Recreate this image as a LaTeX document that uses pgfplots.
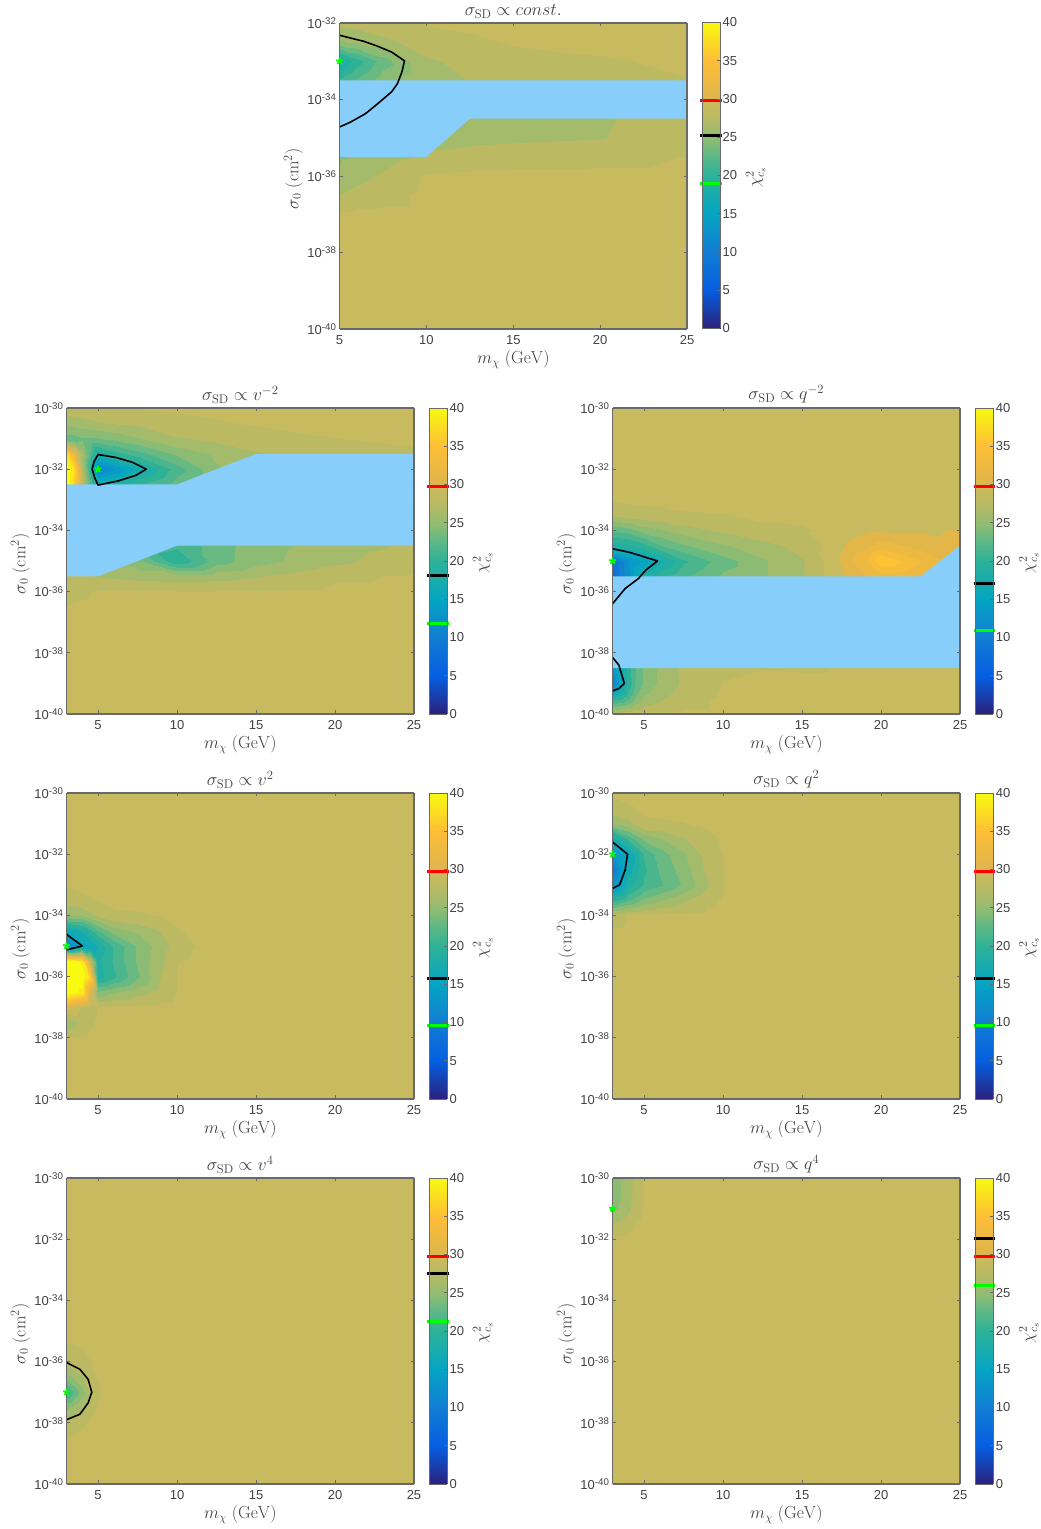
\RequirePackage{fix-cm}
\documentclass[border=0pt]{standalone}
\usepackage[no-math]{fontspec}
\setmainfont{Liberation Sans}
\usepackage{pgfplots}
\usepgfplotslibrary{patchplots}
\pgfplotsset{compat=1.18}
\definecolor{bgc}{RGB}{200,186,95}
\definecolor{blu}{RGB}{135,206,250}
\definecolor{frm}{RGB}{105,105,105}
\definecolor{txt}{RGB}{65,65,65}
\definecolor{lime}{RGB}{0,255,0}
\newcommand{\tk}[1]{10\raisebox{0.55ex}{\fontsize{9.7}{10}\selectfont -#1}}
\pgfplotsset{
 colormap={chi}{rgb255(0cm)=(43,33,125) rgb255(5cm)=(5,95,225) rgb255(10cm)=(18,125,210) rgb255(15cm)=(5,165,195) rgb255(20cm)=(45,178,152) rgb255(23.08cm)=(105,185,130) rgb255(24.6cm)=(140,188,116) rgb255(26.15cm)=(165,187,108) rgb255(27.69cm)=(187,186,98) rgb255(29.23cm)=(200,186,95) rgb255(30.5cm)=(225,182,75) rgb255(35cm)=(253,190,55) rgb255(40cm)=(248,250,15)},
 main/.style={scale only axis,width=347.5pt,height=306pt,view={0}{90},xmax=25,ymin=-40,ymax=-30,clip=false,
  axis background/.style={fill=bgc},axis on top,colormap name=chi,point meta min=0,point meta max=40,
  tick align=inside,major tick length=3.5pt,tick style={frm,line width=.7pt},axis line style={frm,line width=1.2pt},
  xtick={5,10,15,20,25},
  ticklabel style={txt,font=\fontsize{13}{15}\selectfont},/pgf/number format/assume math mode=true,
  xticklabel style={yshift=-3pt},
  label style={txt,font=\fontsize{17.5}{19}\selectfont},title style={txt,font=\fontsize{18}{20}\selectfont,yshift=-5pt},
  ytick={-40,-38,-36,-34,-32,-30},yticklabels={\tk{40},\tk{38},\tk{36},\tk{34},\tk{32},\tk{30}},
  xlabel={$m_\chi\ (\mathrm{GeV})$},ylabel={$\sigma_0\ (\mathrm{cm}^2)$},xlabel style={yshift=1pt},ylabel style={yshift=-2pt,xshift=-3pt}},
 cont/.style={black,line width=1.6pt,line join=round},
 blue/.style={fill=blu,draw=none},
}
\newcommand{\cbar}[5]{%
\begin{axis}[at={(#1pt,#2pt)},anchor=south west,scale only axis,width=18pt,height=306pt,view={0}{90},xmin=0,xmax=1,ymin=0,ymax=40,xtick=\empty,
 ytick={0,5,...,40},colormap name=chi,point meta min=0,point meta max=40,ytick pos=right,yticklabel pos=right,tick align=inside,
 major tick length=3pt,tick style={frm,line width=.7pt},axis line style={frm,line width=.8pt},axis on top,clip=false,
 ticklabel style={txt,font=\fontsize{13}{15}\selectfont,xshift=-1pt},/pgf/number format/assume math mode=true,
 ylabel={$\chi^2_{c_s}$},ylabel style={txt,font=\fontsize{17}{19}\selectfont,yshift=-2pt,xshift=-2pt}]
\addplot3[surf,shader=interp,mesh/cols=2,point meta=y] coordinates {(0,0,0)(1,0,0)

(0,20,0)(1,20,0)

(0,40,0)(1,40,0)};
\addplot3[red,line width=3pt] coordinates {(-0.09,#3,0)(1.09,#3,0)};
\addplot3[black,line width=3pt] coordinates {(-0.09,#4,0)(1.09,#4,0)};
\addplot3[lime,line width=3pt] coordinates {(-0.09,#5,0)(1.09,#5,0)};
\end{axis}}
% best-fit point, in its own axis over the frame: x pos, y pos, xmin, ymin, ymax, m, sigma
\newcommand{\bestfit}[7]{%
\begin{axis}[at={(#1pt,#2pt)},anchor=south west,scale only axis,width=347.5pt,height=306pt,hide axis,clip=false,
 xmin=#3,xmax=25,ymin=#4,ymax=#5]
\addplot[only marks,mark=star,mark size=3.5pt,lime,line width=1.8pt] coordinates {(#6,#7)};
\end{axis}}
\begin{document}
\begin{tikzpicture}[x=1pt,y=1pt]
\path[use as bounding box](0,0) rectangle (1041,1529);
% --- const ---
\begin{axis}[main,at={(339.5pt,1200pt)},anchor=south west,xmin=5,ymin=-40,ymax=-32,ytick={-40,-38,-36,-34,-32},yticklabels={\tk{40},\tk{38},\tk{36},\tk{34},\tk{32}},
 title={$\sigma_{\mathrm{SD}}\propto const.$}]
\addplot3[contour filled={number=27},mesh/cols=8] table[row sep=\\]{
5 -37 28.3\\ 6 -37 28.5\\ 7.5 -37 28.5\\ 10 -37 28.5\\ 12.5 -37 28.5\\ 15 -37 28.5\\ 20 -37 28.5\\ 25 -37 28.5\\
5 -36.5 26.7\\ 6 -36.5 27.2\\ 7.5 -36.5 27.6\\ 10 -36.5 28.5\\ 12.5 -36.5 28.5\\ 15 -36.5 28.5\\ 20 -36.5 28.5\\ 25 -36.5 28.5\\
5 -36 25.6\\ 6 -36 26.2\\ 7.5 -36 26.9\\ 10 -36 28.3\\ 12.5 -36 28.5\\ 15 -36 28.5\\ 20 -36 28.5\\ 25 -36 28.5\\
5 -35.5 25\\ 6 -35.5 25.4\\ 7.5 -35.5 26\\ 10 -35.5 27\\ 12.5 -35.5 27.2\\ 15 -35.5 27.4\\ 20 -35.5 27.7\\ 25 -35.5 28.2\\
5 -35 24.8\\ 6 -35 25\\ 7.5 -35 25.3\\ 10 -35 26\\ 12.5 -35 26.3\\ 15 -35 26.4\\ 20 -35 26.6\\ 25 -35 27.5\\
5 -34.5 23\\ 6 -34.5 24\\ 7.5 -34.5 25\\ 10 -34.5 25.8\\ 12.5 -34.5 26.2\\ 15 -34.5 26.2\\ 20 -34.5 26.5\\ 25 -34.5 27.5\\
5 -34 22\\ 6 -34 23.5\\ 7.5 -34 24.8\\ 10 -34 26\\ 12.5 -34 26.4\\ 15 -34 26.5\\ 20 -34 27\\ 25 -34 27.6\\
5 -33.5 21\\ 6 -33.5 22.5\\ 7.5 -33.5 24.5\\ 10 -33.5 26.3\\ 12.5 -33.5 26.7\\ 15 -33.5 27\\ 20 -33.5 27.5\\ 25 -33.5 28.1\\
5 -33 17.5\\ 6 -33 20\\ 7.5 -33 23\\ 10 -33 26.5\\ 12.5 -33 27\\ 15 -33 27.5\\ 20 -33 28\\ 25 -33 28.4\\
5 -32.5 25\\ 6 -32.5 25.5\\ 7.5 -32.5 26.3\\ 10 -32.5 27.3\\ 12.5 -32.5 27.8\\ 15 -32.5 28.3\\ 20 -32.5 28.5\\ 25 -32.5 28.5\\
5 -32 27\\ 6 -32 27.2\\ 7.5 -32 27.5\\ 10 -32 28.3\\ 12.5 -32 28.5\\ 15 -32 28.5\\ 20 -32 28.5\\ 25 -32 28.5\\
};
\addplot3[blue] coordinates {(5,-33.5,0)(25,-33.5,0)(25,-34.5,0)(12.5,-34.5,0)(10,-35.5,0)(5,-35.5,0)};
\addplot3[cont] coordinates {(5,-32.32,0)(5.6,-32.39,0)(6.4,-32.48,0)(7.15,-32.6,0)(8,-32.76,0)(8.74,-32.99,0)(8.6,-33.27,0)(8.33,-33.59,0)(8,-33.8,0)(7.2,-34.11,0)(6.5,-34.37,0)(5.6,-34.6,0)(5,-34.72,0)};
\end{axis}
\bestfit{339.5}{1200}{5}{-40}{-32}{5}{-33}
\cbar{702}{1200.5}{29.8}{25.2}{18.9}
% --- v^-2 ---
\begin{axis}[main,at={(66.5pt,815pt)},anchor=south west,xmin=3,title={$\sigma_{\mathrm{SD}}\propto v^{-2}$}]
\addplot3[contour filled={number=27},mesh/cols=12] table[row sep=\\]{
3 -36.5 28.2\\ 3.5 -36.5 28.4\\ 4 -36.5 28.5\\ 4.5 -36.5 28.5\\ 5 -36.5 28.5\\ 6 -36.5 28.5\\ 7.5 -36.5 28.5\\ 10 -36.5 28.5\\ 12.5 -36.5 28.5\\ 15 -36.5 28.5\\ 20 -36.5 28.5\\ 25 -36.5 28.5\\
3 -36 27.3\\ 3.5 -36 27.6\\ 4 -36 27.8\\ 4.5 -36 28.1\\ 5 -36 28.3\\ 6 -36 28.4\\ 7.5 -36 28.4\\ 10 -36 28.3\\ 12.5 -36 28.3\\ 15 -36 28.3\\ 20 -36 28.5\\ 25 -36 28.5\\
3 -35.5 26.8\\ 3.5 -35.5 26.8\\ 4 -35.5 26.8\\ 4.5 -35.5 26.7\\ 5 -35.5 26.5\\ 6 -35.5 26.3\\ 7.5 -35.5 26\\ 10 -35.5 25.8\\ 12.5 -35.5 26\\ 15 -35.5 26.5\\ 20 -35.5 27.9\\ 25 -35.5 28.3\\
3 -35 26\\ 3.5 -35 26\\ 4 -35 26\\ 4.5 -35 26\\ 5 -35 26\\ 6 -35 25.5\\ 7.5 -35 24\\ 10 -35 19.5\\ 12.5 -35 23\\ 15 -35 24.6\\ 20 -35 26.3\\ 25 -35 27.6\\
3 -34.5 24\\ 3.5 -34.5 24\\ 4 -34.5 24\\ 4.5 -34.5 24\\ 5 -34.5 24\\ 6 -34.5 24\\ 7.5 -34.5 22\\ 10 -34.5 21\\ 12.5 -34.5 23\\ 15 -34.5 24.5\\ 20 -34.5 26\\ 25 -34.5 26.9\\
3 -32.5 40\\ 3.5 -32.5 36\\ 4 -32.5 28\\ 4.5 -32.5 22\\ 5 -32.5 18\\ 6 -32.5 19\\ 7.5 -32.5 20.5\\ 10 -32.5 23\\ 12.5 -32.5 25\\ 15 -32.5 25\\ 20 -32.5 26\\ 25 -32.5 27\\
3 -32 42\\ 3.5 -32 37\\ 4 -32 27\\ 4.5 -32 20\\ 5 -32 11\\ 6 -32 13\\ 7.5 -32 17\\ 10 -32 21.5\\ 12.5 -32 25\\ 15 -32 26\\ 20 -32 27\\ 25 -32 27.5\\
3 -31.5 37\\ 3.5 -31.5 32\\ 4 -31.5 26\\ 4.5 -31.5 22\\ 5 -31.5 18\\ 6 -31.5 20\\ 7.5 -31.5 21.5\\ 10 -31.5 24\\ 12.5 -31.5 25.5\\ 15 -31.5 26.5\\ 20 -31.5 27.3\\ 25 -31.5 27.9\\
3 -31 23\\ 3.5 -31 23\\ 4 -31 23.5\\ 4.5 -31 23.5\\ 5 -31 23.5\\ 6 -31 24\\ 7.5 -31 25\\ 10 -31 26.5\\ 12.5 -31 27\\ 15 -31 27.5\\ 20 -31 28.1\\ 25 -31 28.4\\
3 -30.5 25.5\\ 3.5 -30.5 25.8\\ 4 -30.5 26\\ 4.5 -30.5 26.3\\ 5 -30.5 26.5\\ 6 -30.5 26.8\\ 7.5 -30.5 27\\ 10 -30.5 27.7\\ 12.5 -30.5 28\\ 15 -30.5 28.3\\ 20 -30.5 28.5\\ 25 -30.5 28.5\\
3 -30 27.8\\ 3.5 -30 27.9\\ 4 -30 27.9\\ 4.5 -30 28\\ 5 -30 28\\ 6 -30 28.1\\ 7.5 -30 28.2\\ 10 -30 28.3\\ 12.5 -30 28.5\\ 15 -30 28.5\\ 20 -30 28.5\\ 25 -30 28.5\\
};
\addplot3[blue] coordinates {(3,-32.5,0)(10,-32.5,0)(15,-31.5,0)(25,-31.5,0)(25,-34.5,0)(10,-34.5,0)(5,-35.5,0)(3,-35.5,0)};
\addplot3[cont] coordinates {(5,-31.52,0)(6.15,-31.62,0)(7.2,-31.78,0)(8.05,-32,0)(7.4,-32.2,0)(6.3,-32.38,0)(5,-32.52,0)(4.8,-32.3,0)(4.62,-32,0)(4.75,-31.75,0)(5,-31.52,0)};
\end{axis}
\bestfit{66.5}{815}{3}{-40}{-30}{5}{-32}
\cbar{429}{815}{29.8}{18.06}{11.87}
% --- q^-2 ---
\begin{axis}[main,at={(612.5pt,815pt)},anchor=south west,xmin=3,title={$\sigma_{\mathrm{SD}}\propto q^{-2}$}]
\addplot3[contour filled={number=27},mesh/cols=14] table[row sep=\\]{
3 -35.5 8\\ 4 -35.5 13\\ 5 -35.5 18\\ 6 -35.5 20\\ 7.5 -35.5 22\\ 10 -35.5 24\\ 12.5 -35.5 25\\ 15 -35.5 26.5\\ 17 -35.5 29\\ 18 -35.5 30\\ 19 -35.5 31\\ 20 -35.5 32\\ 22.5 -35.5 31\\ 25 -35.5 29\\
3 -35 9\\ 4 -35 13\\ 5 -35 15\\ 6 -35 17.3\\ 7.5 -35 20.5\\ 10 -35 23\\ 12.5 -35 25\\ 15 -35 26.5\\ 17 -35 29\\ 18 -35 31\\ 19 -35 32.5\\ 20 -35 35.5\\ 22.5 -35 32.7\\ 25 -35 30\\
3 -34.5 18.5\\ 4 -34.5 19\\ 5 -34.5 20\\ 6 -34.5 22\\ 7.5 -34.5 23.5\\ 10 -34.5 25\\ 12.5 -34.5 26\\ 15 -34.5 27.3\\ 17 -34.5 28.6\\ 18 -34.5 30\\ 19 -34.5 30.5\\ 20 -34.5 32\\ 22.5 -34.5 30.5\\ 25 -34.5 29.8\\
3 -34 22.5\\ 4 -34 23\\ 5 -34 24.5\\ 6 -34 25\\ 7.5 -34 26\\ 10 -34 27\\ 12.5 -34 28\\ 15 -34 28\\ 17 -34 28.5\\ 18 -34 29\\ 19 -34 29.3\\ 20 -34 29.5\\ 22.5 -34 29.5\\ 25 -34 29.7\\
3 -33.5 27\\ 4 -33.5 27.3\\ 5 -33.5 27.5\\ 6 -33.5 27.7\\ 7.5 -33.5 28\\ 10 -33.5 28.1\\ 12.5 -33.5 28.3\\ 15 -33.5 28.5\\ 17 -33.5 28.5\\ 18 -33.5 28.5\\ 19 -33.5 28.5\\ 20 -33.5 28.5\\ 22.5 -33.5 28.5\\ 25 -33.5 28.5\\
3 -33 28.3\\ 4 -33 28.4\\ 5 -33 28.5\\ 6 -33 28.5\\ 7.5 -33 28.5\\ 10 -33 28.5\\ 12.5 -33 28.5\\ 15 -33 28.5\\ 17 -33 28.5\\ 18 -33 28.5\\ 19 -33 28.5\\ 20 -33 28.5\\ 22.5 -33 28.5\\ 25 -33 28.5\\
};
\addplot3[contour filled={number=27},mesh/cols=12] table[row sep=\\]{
3 -40 27.5\\ 3.5 -40 27.6\\ 4 -40 27.7\\ 4.5 -40 27.9\\ 5 -40 28\\ 6 -40 28.2\\ 7.5 -40 28.5\\ 10 -40 28.5\\ 12.5 -40 28.5\\ 15 -40 28.5\\ 20 -40 28.5\\ 25 -40 28.5\\
3 -39.5 20\\ 3.5 -39.5 20.5\\ 4 -39.5 22\\ 4.5 -39.5 24\\ 5 -39.5 25.5\\ 6 -39.5 26.5\\ 7.5 -39.5 27.6\\ 10 -39.5 28.4\\ 12.5 -39.5 28.5\\ 15 -39.5 28.5\\ 20 -39.5 28.5\\ 25 -39.5 28.5\\
3 -39 11\\ 3.5 -39 15\\ 4 -39 19.5\\ 4.5 -39 22.5\\ 5 -39 24\\ 6 -39 25.5\\ 7.5 -39 27\\ 10 -39 28.2\\ 12.5 -39 28.5\\ 15 -39 28.5\\ 20 -39 28.5\\ 25 -39 28.5\\
3 -38.5 14\\ 3.5 -38.5 16.5\\ 4 -38.5 20\\ 4.5 -38.5 22.5\\ 5 -38.5 24\\ 6 -38.5 25.5\\ 7.5 -38.5 27\\ 10 -38.5 27.8\\ 12.5 -38.5 28.1\\ 15 -38.5 28\\ 20 -38.5 28.4\\ 25 -38.5 28.5\\
};
\addplot3[blue] coordinates {(3,-35.5,0)(22.5,-35.5,0)(25,-34.5,0)(25,-38.5,0)(3,-38.5,0)};
\addplot3[cont] coordinates {(3,-34.6,0)(4.1,-34.72,0)(5.85,-35,0)(5.1,-35.3,0)(4.65,-35.57,0)(3.8,-35.9,0)(3,-36.4,0)};
\addplot3[cont] coordinates {(3,-38.15,0)(3.4,-38.4,0)(3.75,-39,0)(3.4,-39.17,0)(3,-39.25,0)};
\end{axis}
\bestfit{612.5}{815}{3}{-40}{-30}{3}{-35}
\cbar{975.3}{815}{29.8}{17.1}{10.95}
% --- v^2 ---
\begin{axis}[main,at={(66.5pt,430pt)},anchor=south west,xmin=3,title={$\sigma_{\mathrm{SD}}\propto v^{2}$}]
\addplot3[contour filled={number=27},mesh/cols=10] table[row sep=\\]{
3 -38 28.3\\ 4 -38 28.5\\ 4.5 -38 28.5\\ 5 -38 28.5\\ 6 -38 28.5\\ 7.5 -38 28.5\\ 9 -38 28.5\\ 10 -38 28.5\\ 11 -38 28.5\\ 12.5 -38 28.5\\
3 -37.5 25.5\\ 4 -37.5 27\\ 4.5 -37.5 27.9\\ 5 -37.5 28.4\\ 6 -37.5 28.5\\ 7.5 -37.5 28.5\\ 9 -37.5 28.5\\ 10 -37.5 28.5\\ 11 -37.5 28.5\\ 12.5 -37.5 28.5\\
3 -37 30\\ 4 -37 28\\ 4.5 -37 27.5\\ 5 -37 28.2\\ 6 -37 28.4\\ 7.5 -37 28.5\\ 9 -37 28.5\\ 10 -37 28.5\\ 11 -37 28.5\\ 12.5 -37 28.5\\
3 -36.5 44\\ 4 -36.5 38\\ 4.5 -36.5 30\\ 5 -36.5 24\\ 6 -36.5 25\\ 7.5 -36.5 26\\ 9 -36.5 27.3\\ 10 -36.5 28.2\\ 11 -36.5 28.5\\ 12.5 -36.5 28.5\\
3 -36 46\\ 4 -36 44\\ 4.5 -36 36\\ 5 -36 18.5\\ 6 -36 20.5\\ 7.5 -36 23.5\\ 9 -36 26.7\\ 10 -36 28.2\\ 11 -36 28.5\\ 12.5 -36 28.5\\
3 -35.5 44\\ 4 -35.5 38\\ 4.5 -35.5 28\\ 5 -35.5 19\\ 6 -35.5 21\\ 7.5 -35.5 24\\ 9 -35.5 26.3\\ 10 -35.5 28.1\\ 11 -35.5 28.4\\ 12.5 -35.5 28.5\\
3 -35 11\\ 4 -35 15.7\\ 4.5 -35 16.2\\ 5 -35 18\\ 6 -35 21\\ 7.5 -35 24\\ 9 -35 26\\ 10 -35 27.3\\ 11 -35 28.1\\ 12.5 -35 28.5\\
3 -34.5 16\\ 4 -34.5 18\\ 4.5 -34.5 20\\ 5 -34.5 22\\ 6 -34.5 24.5\\ 7.5 -34.5 25.5\\ 9 -34.5 26.8\\ 10 -34.5 28\\ 11 -34.5 28.4\\ 12.5 -34.5 28.5\\
3 -34 25\\ 4 -34 25.5\\ 4.5 -34 26.3\\ 5 -34 27\\ 6 -34 27.9\\ 7.5 -34 28\\ 9 -34 28.3\\ 10 -34 28.5\\ 11 -34 28.5\\ 12.5 -34 28.5\\
3 -33.5 27.5\\ 4 -33.5 27.8\\ 4.5 -33.5 28\\ 5 -33.5 28.2\\ 6 -33.5 28.5\\ 7.5 -33.5 28.5\\ 9 -33.5 28.5\\ 10 -33.5 28.5\\ 11 -33.5 28.5\\ 12.5 -33.5 28.5\\
3 -33 28.25\\ 4 -33 28.5\\ 4.5 -33 28.5\\ 5 -33 28.5\\ 6 -33 28.5\\ 7.5 -33 28.5\\ 9 -33 28.5\\ 10 -33 28.5\\ 11 -33 28.5\\ 12.5 -33 28.5\\
};
\addplot3[cont] coordinates {(3,-34.62,0)(4,-35,0)(3.2,-35.1,0)(3,-35.12,0)};
\end{axis}
\bestfit{66.5}{430}{3}{-40}{-30}{3}{-35}
\cbar{429}{430}{29.8}{15.7}{9.6}
% --- q^2 ---
\begin{axis}[main,at={(612.5pt,430pt)},anchor=south west,xmin=3,title={$\sigma_{\mathrm{SD}}\propto q^{2}$}]
\addplot3[contour filled={number=27},mesh/cols=8] table[row sep=\\]{
3 -34.5 28.3\\ 4 -34.5 28.5\\ 5 -34.5 28.5\\ 6 -34.5 28.5\\ 7.5 -34.5 28.5\\ 9 -34.5 28.5\\ 10 -34.5 28.5\\ 11 -34.5 28.5\\
3 -34 27.3\\ 4 -34 28.2\\ 5 -34 28.2\\ 6 -34 28.4\\ 7.5 -34 28.5\\ 9 -34 28.5\\ 10 -34 28.5\\ 11 -34 28.5\\
3 -33.5 20\\ 4 -33.5 22\\ 5 -33.5 24\\ 6 -33.5 25\\ 7.5 -33.5 26.5\\ 9 -33.5 27.8\\ 10 -33.5 28.3\\ 11 -33.5 28.5\\
3 -33 13\\ 4 -33 18.5\\ 5 -33 21\\ 6 -33 22\\ 7.5 -33 24\\ 9 -33 26.5\\ 10 -33 28.1\\ 11 -33 28.5\\
3 -32.5 10\\ 4 -32.5 17\\ 5 -32.5 20.5\\ 6 -32.5 22.5\\ 7.5 -32.5 24.5\\ 9 -32.5 27\\ 10 -32.5 28.1\\ 11 -32.5 28.5\\
3 -32 13.5\\ 4 -32 15.7\\ 5 -32 21\\ 6 -32 23\\ 7.5 -32 25\\ 9 -32 27.3\\ 10 -32 28.2\\ 11 -32 28.5\\
3 -31.5 17\\ 4 -31.5 21\\ 5 -31.5 24\\ 6 -31.5 25\\ 7.5 -31.5 26.5\\ 9 -31.5 27.8\\ 10 -31.5 28.3\\ 11 -31.5 28.5\\
3 -31 25\\ 4 -31 26\\ 5 -31 28\\ 6 -31 28\\ 7.5 -31 28.1\\ 9 -31 28.3\\ 10 -31 28.5\\ 11 -31 28.5\\
3 -30.5 27.8\\ 4 -30.5 28\\ 5 -30.5 28.3\\ 6 -30.5 28.4\\ 7.5 -30.5 28.5\\ 9 -30.5 28.5\\ 10 -30.5 28.5\\ 11 -30.5 28.5\\
3 -30 28.3\\ 4 -30 28.5\\ 5 -30 28.5\\ 6 -30 28.5\\ 7.5 -30 28.5\\ 9 -30 28.5\\ 10 -30 28.5\\ 11 -30 28.5\\
};
\addplot3[cont] coordinates {(3,-31.6,0)(3.95,-32,0)(3.8,-32.52,0)(3.45,-33,0)(3,-33.12,0)};
\end{axis}
\bestfit{612.5}{430}{3}{-40}{-30}{3}{-32}
\cbar{975.3}{430}{29.8}{15.7}{9.6}
% --- v^4 ---
\begin{axis}[main,at={(66.5pt,45pt)},anchor=south west,xmin=3,title={$\sigma_{\mathrm{SD}}\propto v^{4}$}]
\addplot3[contour filled={number=27},mesh/cols=6] table[row sep=\\]{
3 -39 28.5\\ 3.5 -39 28.5\\ 4 -39 28.5\\ 4.5 -39 28.5\\ 5 -39 28.5\\ 5.5 -39 28.5\\
3 -38.5 28.1\\ 3.5 -38.5 28.25\\ 4 -38.5 28.5\\ 4.5 -38.5 28.5\\ 5 -38.5 28.5\\ 5.5 -38.5 28.5\\
3 -38 27.5\\ 3.5 -38 27.7\\ 4 -38 28\\ 4.5 -38 28.3\\ 5 -38 28.5\\ 5.5 -38 28.5\\
3 -37.5 24.7\\ 3.5 -37.5 25.6\\ 4 -37.5 26.7\\ 4.5 -37.5 27.8\\ 5 -37.5 28.3\\ 5.5 -37.5 28.5\\
3 -37 20\\ 3.5 -37 22.5\\ 4 -37 24.5\\ 4.5 -37 27\\ 5 -37 28\\ 5.5 -37 28.5\\
3 -36.5 24.5\\ 3.5 -36.5 25.5\\ 4 -36.5 26.5\\ 4.5 -36.5 27.7\\ 5 -36.5 28.3\\ 5.5 -36.5 28.5\\
3 -36 27.4\\ 3.5 -36 27.6\\ 4 -36 27.9\\ 4.5 -36 28.1\\ 5 -36 28.4\\ 5.5 -36 28.5\\
3 -35.5 28.05\\ 3.5 -35.5 28.1\\ 4 -35.5 28.2\\ 4.5 -35.5 28.4\\ 5 -35.5 28.5\\ 5.5 -35.5 28.5\\
3 -35 28.5\\ 3.5 -35 28.5\\ 4 -35 28.5\\ 4.5 -35 28.5\\ 5 -35 28.5\\ 5.5 -35 28.5\\
};
\addplot3[cont] coordinates {(3,-36.03,0)(3.85,-36.25,0)(4.37,-36.58,0)(4.6,-37,0)(4.37,-37.35,0)(3.85,-37.72,0)(3,-37.9,0)};
\end{axis}
\bestfit{66.5}{45}{3}{-40}{-30}{3}{-37}
\cbar{429}{45}{29.8}{27.5}{21.3}
% --- q^4 ---
\begin{axis}[main,at={(612.5pt,45pt)},anchor=south west,xmin=3,title={$\sigma_{\mathrm{SD}}\propto q^{4}$}]
\addplot3[contour filled={number=27},mesh/cols=6] table[row sep=\\]{
3 -32 28.3\\ 3.5 -32 28.5\\ 4 -32 28.5\\ 4.5 -32 28.5\\ 5 -32 28.5\\ 5.5 -32 28.5\\
3 -31.5 26.67\\ 3.5 -31.5 27.1\\ 4 -31.5 27.8\\ 4.5 -31.5 28.2\\ 5 -31.5 28.5\\ 5.5 -31.5 28.5\\
3 -31 24.9\\ 3.5 -31 25.3\\ 4 -31 26.3\\ 4.5 -31 27.6\\ 5 -31 28.4\\ 5.5 -31 28.5\\
3 -30.5 24.9\\ 3.5 -30.5 25.1\\ 4 -30.5 26\\ 4.5 -30.5 27.3\\ 5 -30.5 28.4\\ 5.5 -30.5 28.5\\
3 -30 24.9\\ 3.5 -30 25.1\\ 4 -30 26\\ 4.5 -30 27.3\\ 5 -30 28.4\\ 5.5 -30 28.5\\
};
\end{axis}
\bestfit{612.5}{45}{3}{-40}{-30}{3}{-31}
\cbar{975.3}{45}{29.8}{32.1}{25.9}
\end{tikzpicture}
\end{document}
